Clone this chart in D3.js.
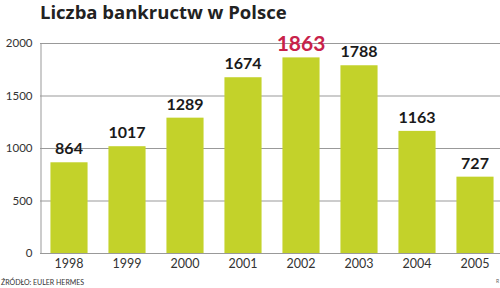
<!DOCTYPE html>
<html><head><meta charset="utf-8">
<script src="https://cdn.jsdelivr.net/npm/d3@7"></script>
<style>body{margin:0;background:#fff}svg{display:block}</style>
</head><body>
<svg id="c" width="500" height="288"></svg>
<script>
const years = ["1998","1999","2000","2001","2002","2003","2004","2005"];
const values = [864,1017,1289,1674,1863,1788,1163,727];
const yTicks = [0,500,1000,1500,2000];
const highlight = "2002";

const svg = d3.select("#c");
const font = "Lato, 'Open Sans', Arial, sans-serif";
const x = d3.scaleBand().domain(years).range([40,504]).paddingInner(0.36).paddingOuter(0.18);
const y = d3.scaleLinear().domain([0,2000]).range([253,43]);

svg.append("text").attr("x",40).attr("y",19).attr("font-family","'Open Sans', Arial, sans-serif")
  .attr("font-weight","bold").attr("font-size",18.5).attr("fill","#222")
  .text("Liczba bankructw w Polsce");

// gridlines
svg.append("g").selectAll("line").data(yTicks).join("line")
  .attr("x1",40).attr("x2",500).attr("y1",d=>y(d)+0.5).attr("y2",d=>y(d)+0.5)
  .attr("stroke","#999").attr("stroke-width",1);

// y axis
const ay = svg.append("g").attr("transform","translate(40.5,0)")
  .call(d3.axisLeft(y).tickValues(yTicks).tickFormat(d3.format("d")).tickSize(0).tickPadding(8));
ay.select(".domain").attr("stroke","#999");
ay.selectAll("text").attr("font-family",font).attr("font-size",11.5).attr("fill","#333");

// bars
svg.append("g").selectAll("rect").data(values).join("rect")
  .attr("x",(d,i)=>x(years[i])).attr("width",x.bandwidth())
  .attr("y",d=>y(d)).attr("height",d=>y(0)-y(d)).attr("fill","#c3d22a");

// value labels
svg.append("g").selectAll("text").data(values).join("text")
  .attr("x",(d,i)=>x(years[i])+x.bandwidth()/2)
  .attr("y",(d,i)=>y(d)-(years[i]===highlight?6:8))
  .attr("text-anchor","middle").attr("font-family",font).attr("font-weight","bold")
  .attr("font-size",(d,i)=>years[i]===highlight?21:16)
  .attr("fill",(d,i)=>years[i]===highlight?"#c8224a":"#1a1a1a")
  .text(d=>d);

// x labels
const ax = svg.append("g").attr("transform","translate(0,253)")
  .call(d3.axisBottom(x).tickSize(0).tickPadding(6));
ax.select(".domain").remove();
ax.selectAll("text").attr("font-family",font).attr("font-size",12.5).attr("fill","#333");

svg.append("text").attr("x",1).attr("y",285).attr("font-family",font)
  .attr("font-size",7).attr("fill","#333").text("ŹRÓDŁO: EULER HERMES");
svg.append("text").attr("x",496).attr("y",283).attr("font-family",font)
  .attr("font-size",5).attr("fill","#666").text("R");
</script>
</body></html>
